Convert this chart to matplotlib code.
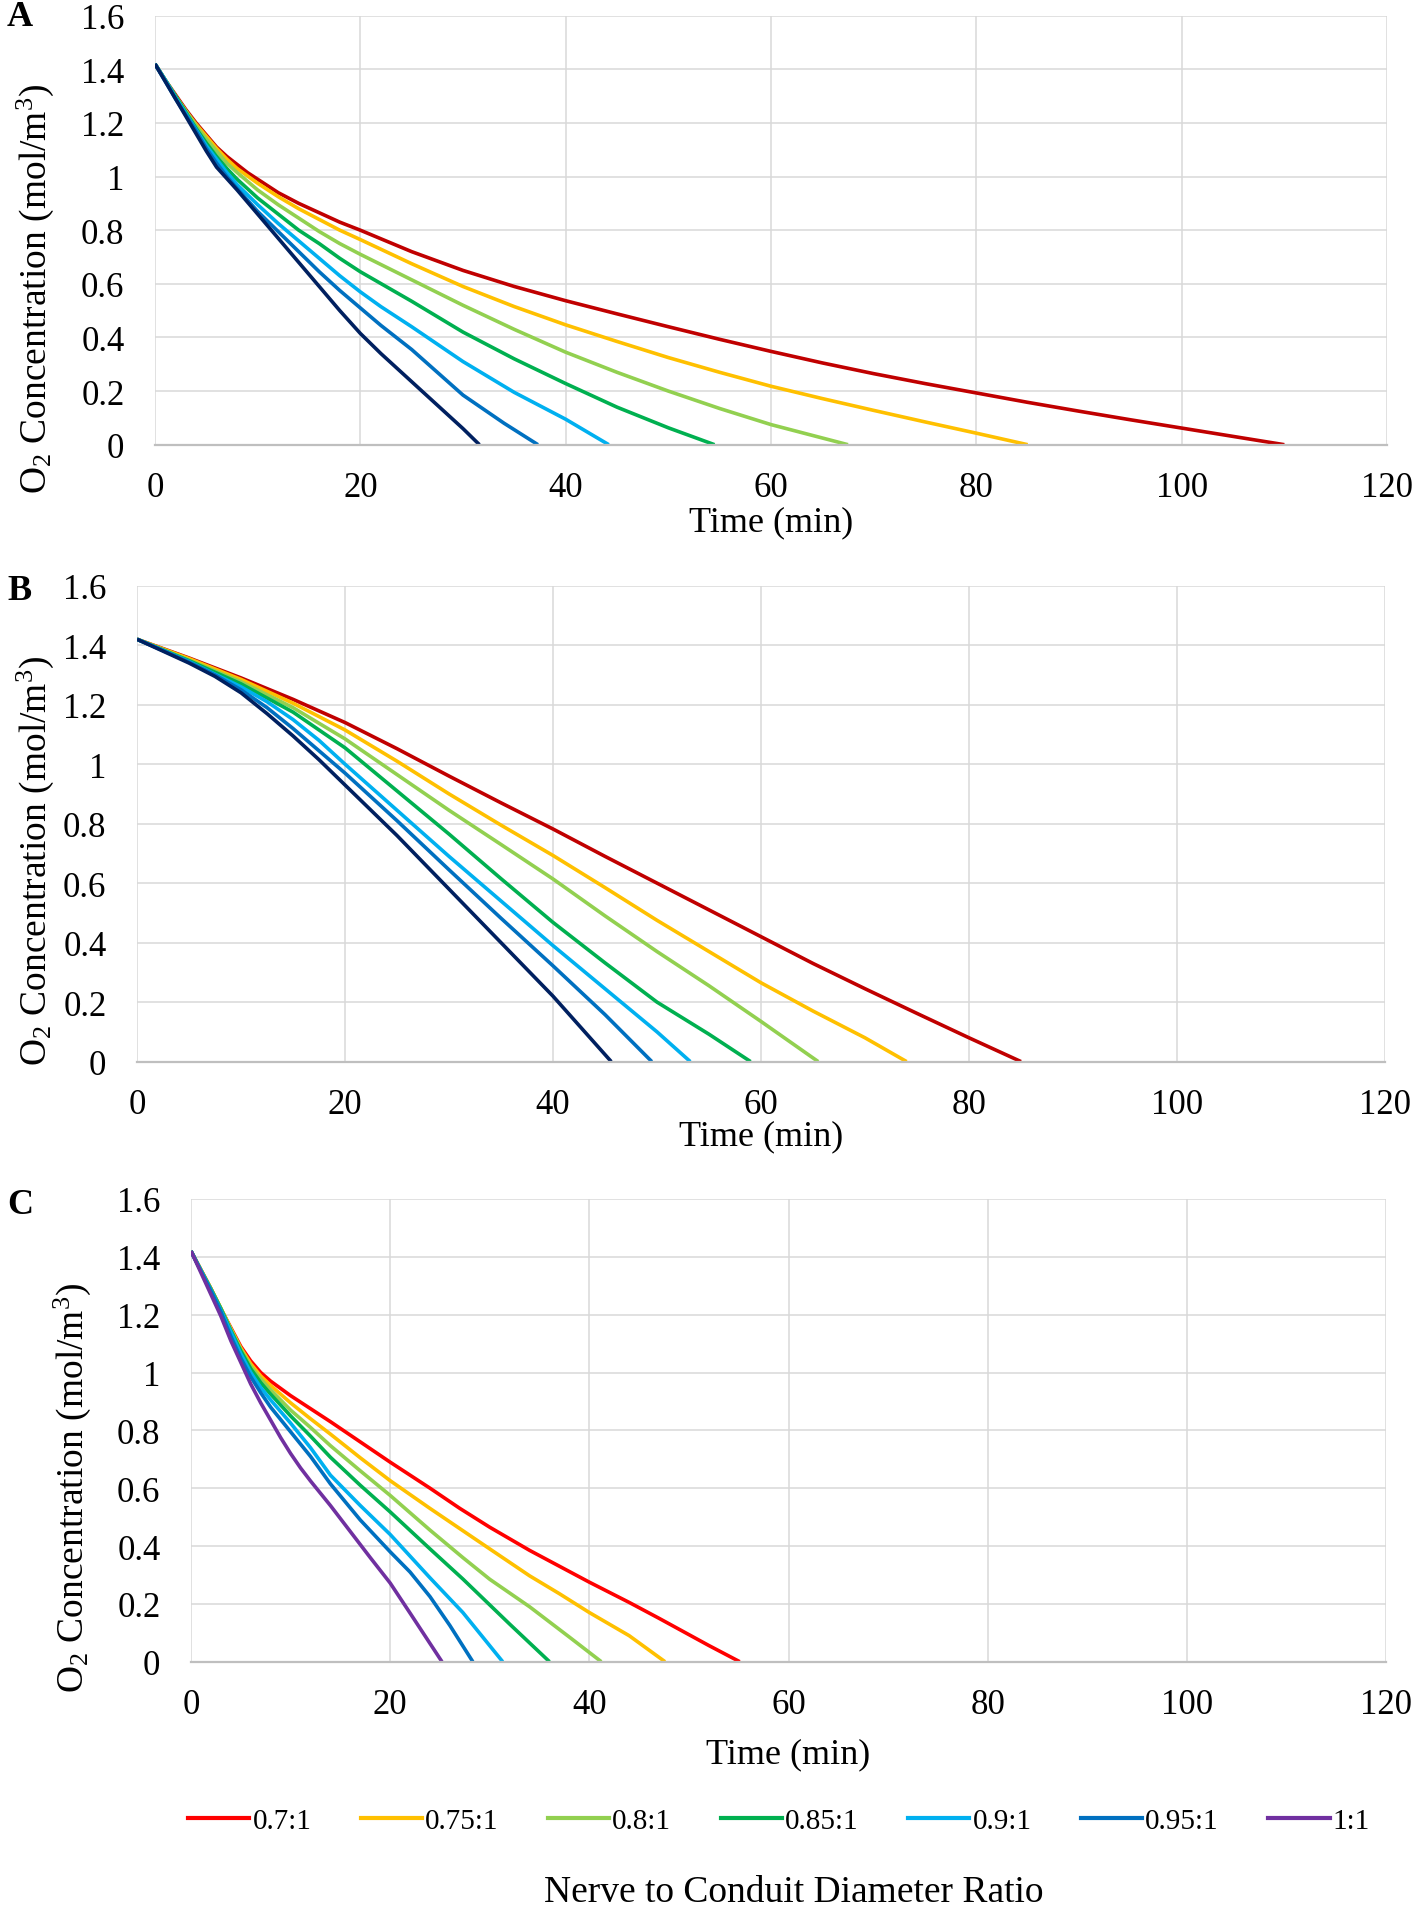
import numpy as np
import matplotlib
matplotlib.use("Agg")
import matplotlib.pyplot as plt
from matplotlib.ticker import FuncFormatter

# fonts
plt.rcParams['font.family'] = ['Liberation Serif', 'DejaVu Serif']
plt.rcParams['mathtext.fontset'] = 'custom'
plt.rcParams['mathtext.rm'] = 'Liberation Serif'

# series labels and colours
ratios = ['0.7:1', '0.75:1', '0.8:1', '0.85:1', '0.9:1', '0.95:1', '1:1']
colors_ab = ['#C00000', '#FFC000', '#92D050', '#00B050', '#00B0F0', '#0070C0', '#002060']
colors_c = ['#FF0000', '#FFC000', '#92D050', '#00B050', '#00B0F0', '#0070C0', '#7030A0']

# panel A (time in min, O2 concentration in mol/m3), one list per ratio
a_time = [
    [0, 1, 2, 3, 4, 5, 6, 7, 8, 9, 10, 12, 14, 16, 18, 20, 25, 30, 35, 40, 45, 50, 55, 60, 65, 70, 75, 80, 85, 90, 95, 100, 105, 110],
    [0, 1, 2, 3, 4, 5, 6, 7, 8, 10, 12, 14, 16, 18, 20, 25, 30, 35, 40, 45, 50, 55, 60, 65, 70, 75, 80, 85],
    [0, 1, 2, 3, 4, 5, 6, 7, 8, 10, 12, 14, 16, 18, 20, 25, 30, 35, 40, 45, 50, 55, 60, 65, 67.5],
    [0, 1, 2, 3, 4, 5, 6, 7, 8, 10, 12, 14, 16, 18, 20, 25, 30, 35, 40, 45, 50, 54.5],
    [0, 1, 2, 3, 4, 5, 6, 7, 8, 10, 12, 14, 16, 18, 20, 22, 25, 30, 35, 40, 44.2],
    [0, 1, 2, 3, 4, 5, 6, 7, 8, 10, 12, 14, 16, 18, 20, 22, 25, 30, 34, 37.3],
    [0, 1, 2, 3, 4, 5, 6, 8, 10, 12, 14, 16, 18, 20, 22, 24, 26, 28, 30, 31.6],
]
a_conc = [
    [1.42, 1.36, 1.305, 1.25, 1.20, 1.155, 1.11, 1.075, 1.045, 1.015, 0.99, 0.94, 0.90, 0.865, 0.83, 0.80, 0.72, 0.65, 0.59, 0.537,
     0.488, 0.44, 0.393, 0.348, 0.305, 0.265, 0.228, 0.193, 0.158, 0.125, 0.093, 0.062, 0.031, 0],
    [1.42, 1.36, 1.30, 1.245, 1.195, 1.15, 1.105, 1.065, 1.03, 0.975, 0.925, 0.88, 0.84, 0.80, 0.765, 0.675, 0.59, 0.515, 0.447,
     0.385, 0.325, 0.27, 0.218, 0.172, 0.128, 0.085, 0.043, 0],
    [1.42, 1.36, 1.30, 1.245, 1.19, 1.14, 1.095, 1.05, 1.015, 0.95, 0.895, 0.845, 0.795, 0.75, 0.71, 0.615, 0.52, 0.43, 0.345,
     0.27, 0.20, 0.135, 0.075, 0.025, 0],
    [1.42, 1.36, 1.30, 1.24, 1.18, 1.125, 1.075, 1.03, 0.99, 0.92, 0.86, 0.80, 0.75, 0.695, 0.645, 0.535, 0.42, 0.32, 0.228,
     0.14, 0.063, 0],
    [1.42, 1.36, 1.295, 1.235, 1.175, 1.115, 1.065, 1.015, 0.97, 0.895, 0.825, 0.76, 0.695, 0.63, 0.57, 0.515, 0.44, 0.31,
     0.195, 0.095, 0],
    [1.42, 1.355, 1.29, 1.23, 1.17, 1.105, 1.05, 1.0, 0.955, 0.87, 0.795, 0.72, 0.645, 0.575, 0.51, 0.445, 0.355, 0.185, 0.08, 0],
    [1.42, 1.355, 1.29, 1.225, 1.16, 1.095, 1.035, 0.95, 0.86, 0.77, 0.68, 0.59, 0.50, 0.415, 0.34, 0.27, 0.20, 0.13, 0.06, 0],
]

# panel B
b_time = [
    [0, 5, 10, 15, 20, 25, 30, 35, 40, 45, 50, 55, 60, 65, 70, 75, 80, 85],
    [0, 5, 10, 15, 20, 25, 30, 35, 40, 45, 50, 55, 60, 65, 70, 74],
    [0, 5, 10, 15, 20, 25, 30, 35, 40, 45, 50, 55, 60, 65.5],
    [0, 5, 10, 15, 20, 25, 30, 35, 40, 45, 50, 55, 59],
    [0, 5, 10, 12.5, 15, 17.5, 20, 25, 30, 35, 40, 45, 50, 53.2],
    [0, 2.5, 5, 7.5, 10, 12.5, 15, 17.5, 20, 25, 30, 35, 40, 45, 49.5],
    [0, 2.5, 5, 7.5, 10, 12.5, 15, 17.5, 20, 22.5, 25, 30, 35, 40, 45.6],
]
b_conc = [
    [1.42, 1.357, 1.29, 1.218, 1.14, 1.052, 0.96, 0.87, 0.782, 0.69, 0.60, 0.51, 0.42, 0.33, 0.245, 0.162, 0.08, 0],
    [1.42, 1.355, 1.285, 1.205, 1.115, 1.01, 0.90, 0.795, 0.693, 0.585, 0.475, 0.37, 0.265, 0.17, 0.08, 0],
    [1.42, 1.35, 1.277, 1.19, 1.085, 0.965, 0.845, 0.73, 0.614, 0.49, 0.37, 0.255, 0.135, 0],
    [1.42, 1.348, 1.27, 1.175, 1.055, 0.91, 0.765, 0.615, 0.468, 0.332, 0.20, 0.092, 0],
    [1.42, 1.345, 1.26, 1.21, 1.15, 1.08, 1.00, 0.845, 0.69, 0.54, 0.39, 0.245, 0.10, 0],
    [1.42, 1.382, 1.343, 1.30, 1.25, 1.19, 1.12, 1.045, 0.97, 0.81, 0.645, 0.482, 0.322, 0.158, 0],
    [1.42, 1.38, 1.34, 1.295, 1.24, 1.17, 1.095, 1.015, 0.93, 0.845, 0.76, 0.58, 0.40, 0.22, 0],
]

# panel C
c_time = [
    [0, 1, 2, 3, 4, 5, 6, 7, 8, 9, 10, 12, 14, 17, 20, 24, 27, 30, 34, 37, 40, 44, 47, 52, 55.1],
    [0, 1, 2, 3, 4, 5, 6, 7, 8, 10, 12, 14, 17, 20, 24, 27.3, 30, 34, 37, 40, 44, 47.6],
    [0, 1, 2, 3, 4, 5, 6, 7, 8, 10, 12, 14, 17, 20, 24, 27.3, 30, 34, 38, 41.2],
    [0, 1, 2, 3, 4, 5, 6, 7, 8, 10, 12, 14, 17, 20, 24, 27.3, 32, 36],
    [0, 1, 2, 3, 4, 5, 6, 7, 8, 10, 12, 14, 17, 20, 24, 27.3, 31.3],
    [0, 1, 2, 3, 4, 5, 6, 7, 8, 10, 12, 14, 17, 20, 22, 24, 26, 28.3],
    [0, 1, 2, 3, 4, 5, 6, 7, 8, 9, 10, 11, 12, 14, 16, 18, 20, 22, 24, 25.2],
]
c_conc = [
    [1.42, 1.355, 1.29, 1.22, 1.155, 1.09, 1.04, 1.0, 0.97, 0.945, 0.92, 0.875, 0.83, 0.76, 0.69, 0.60, 0.53, 0.465, 0.385,
     0.33, 0.275, 0.205, 0.15, 0.056, 0],
    [1.42, 1.355, 1.29, 1.222, 1.152, 1.085, 1.03, 0.988, 0.955, 0.895, 0.84, 0.787, 0.705, 0.626, 0.53, 0.453, 0.39, 0.297,
     0.235, 0.17, 0.09, 0],
    [1.42, 1.354, 1.29, 1.222, 1.15, 1.08, 1.022, 0.978, 0.94, 0.87, 0.81, 0.747, 0.66, 0.575, 0.455, 0.36, 0.285, 0.19, 0.085, 0],
    [1.42, 1.353, 1.288, 1.22, 1.145, 1.075, 1.013, 0.965, 0.925, 0.85, 0.78, 0.707, 0.61, 0.518, 0.39, 0.286, 0.13, 0],
    [1.42, 1.352, 1.285, 1.215, 1.14, 1.065, 1.0, 0.948, 0.905, 0.825, 0.74, 0.645, 0.54, 0.44, 0.29, 0.17, 0],
    [1.42, 1.35, 1.282, 1.21, 1.125, 1.05, 0.985, 0.93, 0.88, 0.795, 0.71, 0.615, 0.49, 0.38, 0.31, 0.225, 0.125, 0],
    [1.42, 1.345, 1.27, 1.195, 1.11, 1.035, 0.96, 0.895, 0.835, 0.775, 0.72, 0.67, 0.625, 0.54, 0.45, 0.36, 0.272, 0.168,
     0.063, 0],
]

x_ticks = [0, 20, 40, 60, 80, 100, 120]
y_ticks = [0, 0.2, 0.4, 0.6, 0.8, 1.0, 1.2, 1.4, 1.6]

W, H = 1412, 1908
fig = plt.figure(figsize=(W / 100, H / 100), dpi=100)

def px_axes(left, top, right, bottom):
    # axes placed by pixel box (origin top-left)
    return fig.add_axes([left / W, 1 - bottom / H, (right - left) / W, (bottom - top) / H])

def style(ax):
    ax.set_xlim(0, 120)
    ax.set_ylim(0, 1.6)
    ax.set_xticks(x_ticks)
    ax.set_yticks(y_ticks)
    ax.yaxis.set_major_formatter(FuncFormatter(lambda v, p: f"{v:g}"))
    ax.tick_params(length=0, labelsize=25, colors='black')
    ax.tick_params(axis='y', pad=22)
    ax.tick_params(axis='x', pad=19)
    ax.grid(True, color='#D9D9D9', lw=1.1)
    ax.set_axisbelow(True)
    for s in ['top', 'right', 'left']:
        ax.spines[s].set_visible(False)
    ax.spines['bottom'].set_color('#BFBFBF')
    ax.spines['bottom'].set_linewidth(1.6)

ylabel = r'O$\mathregular{_2}$ Concentration (mol/m$\mathregular{^3}$)'

# letter, axes box (px), data, colours, letter pos, ylabel centre, xlabel y
panels = [
    ('A', (155, 16.7, 1387, 445.7), a_time, a_conc, colors_ab, (20, 18), (35, 289), 523),
    ('B', (137, 586.7, 1385, 1062.6), b_time, b_conc, colors_ab, (20, 592), (35, 861), 1137),
    ('C', (191, 1200, 1386, 1662.7), c_time, c_conc, colors_c, (20, 1205), (72, 1488), 1755),
]

for letter, box, times, concs, cols, lpos, ypos, xlab_y in panels:
    ax = px_axes(*box)
    style(ax)
    for t, c, col, lab in zip(times, concs, cols, ratios):
        ax.plot(t, c, color=col, lw=2.6, solid_capstyle='butt', solid_joinstyle='round', label=lab)
    cx = (box[0] + box[2]) / 2
    fig.text(cx / W, 1 - xlab_y / H, 'Time (min)', ha='center', va='center', fontsize=26)
    fig.text(ypos[0] / W, 1 - ypos[1] / H, ylabel, rotation=90, ha='center', va='center', fontsize=27)
    fig.text(lpos[0] / W, 1 - lpos[1] / H, letter, ha='center', va='center', fontsize=26, fontweight='bold')

# shared legend at the bottom (colours of panel C)
handles = [plt.Line2D([], [], color=col, lw=3) for col in colors_c]
fig.legend(handles, ratios, loc='center', bbox_to_anchor=(779 / W, 1 - 1822 / H), ncol=7,
           frameon=False, fontsize=21, handlelength=2.1, handletextpad=0.1, columnspacing=1.7)
fig.text(794 / W, 1 - 1893 / H, 'Nerve to Conduit Diameter Ratio', ha='center', va='center', fontsize=27)

fig.savefig('out.png', dpi=100)
